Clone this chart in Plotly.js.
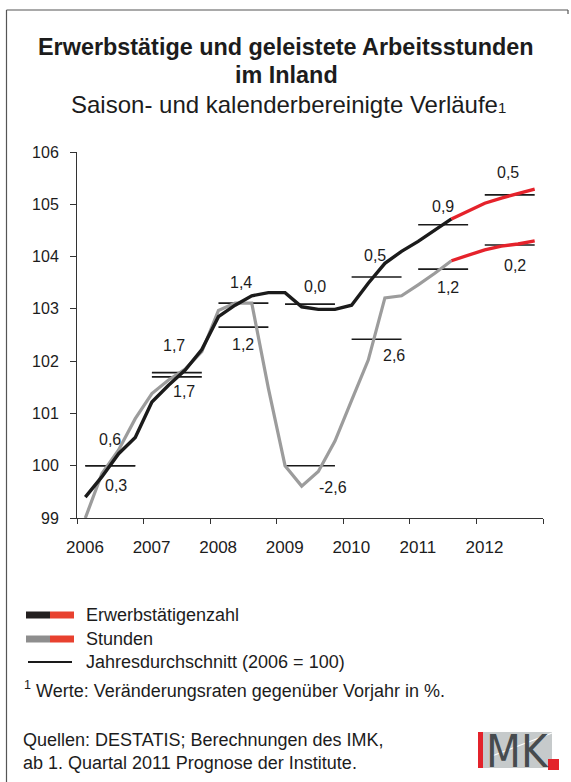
<!DOCTYPE html>
<html>
<head>
<meta charset="utf-8">
<script src="https://cdn.plot.ly/plotly-3.0.1.min.js"></script>
<style>
  html, body { margin: 0; padding: 0; background: #ffffff; }
  #chart { width: 571px; height: 782px; }
</style>
</head>
<body>
<div id="chart"></div>
<script>
// ---------------- data ----------------
const years = [2006, 2007, 2008, 2009, 2010, 2011, 2012];
const yearLabels = ['2006', '2007', '2008', '2009', '2010', '2011', '2012'];

// quarterly index values (2006 = 100), Q1 2006 ... Q4 2012
const erwerbstaetige = [
  99.40, 99.79, 100.23, 100.54,
  101.22, 101.54, 101.83, 102.22,
  102.85, 103.07, 103.25, 103.31,
  103.31, 103.04, 102.99, 102.99,
  103.07, 103.49, 103.87, 104.10,
  104.29, 104.51, 104.72, 104.87,
  105.02, 105.12, 105.20, 105.29
];
const stunden = [
  99.00, 99.85, 100.30, 100.90,
  101.38, 101.64, 101.85, 102.18,
  102.97, 103.11, 103.11, 101.48,
  100.00, 99.61, 99.89, 100.47,
  101.25, 102.02, 103.21, 103.25,
  103.46, 103.68, 103.92, 104.03,
  104.13, 104.20, 104.24, 104.30
];
const forecastStart = 22; // index where the red (forecast) part starts

// annual averages
const avgErwerb  = [100.00, 101.70, 103.11, 103.09, 103.61, 104.61, 105.18];
const avgStunden = [100.00, 101.78, 102.65, 100.00, 102.42, 103.76, 104.22];

// annual change rates in %
const rateErwerb  = ['0,6', '1,7', '1,4', '0,0', '0,5', '0,9', '0,5'];
const rateStunden = ['0,3', '1,7', '1,2', '-2,6', '2,6', '1,2', '0,2'];

// ---------------- label placement (style) ----------------
const lblErwerbDx    = [0.50, 0.60, 0.47, 0.58, 0.48, 0.50, 0.47];
const lblErwerbShift = [26, -15, 21, 18, 21, 18, 22];
const lblStundenDx    = [0.59, 0.46, 0.50, 0.85, 0.76, 0.58, 0.58];
const lblStundenShift = [-20, 27, -17, -22, -16, -18, -20];

// ---------------- helpers ----------------
const quarterX = [];
years.forEach(y => { for (let q = 0; q < 4; q++) quarterX.push(y + (q + 0.5) / 4); });

function avgSegments(avg) {
  const xs = [], ys = [];
  years.forEach((y, i) => {
    xs.push(y + 0.125, y + 0.875, null);
    ys.push(avg[i], avg[i], null);
  });
  return { xs, ys };
}

const FONT = 'Liberation Sans, Arial, Helvetica, sans-serif';
const TXT = '#1c1c1c';
const BLACK = '#1b1b1b';
const GRAY = '#9c9c9c';
const RED = '#e5222b';

// plot area in pixels
const L = 77, R = 543, T = 152, B = 518;
const W = R - L, H = B - T;
const px = p => (p - L) / W;
const py = p => (B - p) / H;

// ---------------- traces ----------------
const segE = avgSegments(avgErwerb);
const segS = avgSegments(avgStunden);

const traces = [
  { x: segS.xs, y: segS.ys, mode: 'lines', line: { color: '#1a1a1a', width: 1.6 }, hoverinfo: 'skip', showlegend: false },
  { x: segE.xs, y: segE.ys, mode: 'lines', line: { color: '#1a1a1a', width: 1.6 }, hoverinfo: 'skip', showlegend: false },
  { x: quarterX.slice(0, forecastStart + 1), y: stunden.slice(0, forecastStart + 1), mode: 'lines',
    line: { color: GRAY, width: 3.2 }, showlegend: false },
  { x: quarterX.slice(0, forecastStart + 1), y: erwerbstaetige.slice(0, forecastStart + 1), mode: 'lines',
    line: { color: BLACK, width: 3.4 }, showlegend: false },
  { x: quarterX.slice(forecastStart), y: stunden.slice(forecastStart), mode: 'lines',
    line: { color: RED, width: 3.4 }, showlegend: false },
  { x: quarterX.slice(forecastStart), y: erwerbstaetige.slice(forecastStart), mode: 'lines',
    line: { color: RED, width: 3.4 }, showlegend: false }
];

// ---------------- annotations ----------------
const annotations = [];

years.forEach((y, i) => {
  annotations.push({ x: y + lblErwerbDx[i], y: avgErwerb[i], xref: 'x', yref: 'y', text: rateErwerb[i],
    showarrow: false, yshift: lblErwerbShift[i], xanchor: 'center', yanchor: 'middle',
    font: { family: FONT, size: 16, color: TXT } });
  annotations.push({ x: y + lblStundenDx[i], y: avgStunden[i], xref: 'x', yref: 'y', text: rateStunden[i],
    showarrow: false, yshift: lblStundenShift[i], xanchor: 'center', yanchor: 'middle',
    font: { family: FONT, size: 16, color: TXT } });
});

function textAt(x, y, text, size, anchor, extra) {
  return Object.assign({ x: px(x), y: py(y), xref: 'paper', yref: 'paper', text: text, showarrow: false,
    xanchor: anchor, yanchor: 'middle', font: { family: FONT, size: size, color: TXT } }, extra || {});
}

// title block
annotations.push(textAt(286, 47, '<b>Erwerbstätige und geleistete Arbeitsstunden</b>', 23.4, 'center'));
annotations.push(textAt(286, 75, '<b>im Inland</b>', 23.4, 'center'));
annotations.push(textAt(288, 105, 'Saison- und kalenderbereinigte Verläufe<span style="font-size:15px">1</span>', 24, 'center'));

// legend
annotations.push(textAt(84, 615, 'Erwerbstätigenzahl', 18, 'left'));
annotations.push(textAt(84, 639, 'Stunden', 18, 'left'));
annotations.push(textAt(84, 662, 'Jahresdurchschnitt (2006 = 100)', 18, 'left'));
annotations.push(textAt(22, 689, '<sup>1</sup> Werte: Veränderungsraten gegenüber Vorjahr in %.', 18, 'left'));
annotations.push(textAt(21, 740, 'Quellen: DESTATIS; Berechnungen des IMK,', 18, 'left'));
annotations.push(textAt(21, 763, 'ab 1. Quartal 2011 Prognose der Institute.', 18, 'left'));

// logo text
annotations.push(textAt(484, 751, 'MK', 45, 'left',
  { font: { family: 'Liberation Sans Narrow, DejaVu Sans Condensed, Arial Narrow, sans-serif', size: 45, color: '#464b4e' } }));

// ---------------- shapes ----------------
function rect(x0, y0, x1, y1, color) {
  return { type: 'rect', xref: 'paper', yref: 'paper', x0: px(x0), x1: px(x1), y0: py(y1), y1: py(y0),
    fillcolor: color, line: { width: 0 }, layer: 'above' };
}
function seg(x0, y0, x1, y1, color, width) {
  return { type: 'line', xref: 'paper', yref: 'paper', x0: px(x0), x1: px(x1), y0: py(y0), y1: py(y1),
    line: { color: color, width: width }, layer: 'above' };
}

const shapes = [
  // frame
  seg(6.5, 10, 568, 10, '#555555', 1.2),
  seg(6.5, 10, 6.5, 790, '#555555', 1.2),
  seg(568, 10, 568, 14, '#555555', 1.2),
  // legend symbols
  seg(26, 615, 50, 615, '#231f20', 7),
  seg(50, 615, 74, 615, '#e8412f', 7),
  seg(26, 639, 50, 639, '#8e8e8e', 7),
  seg(50, 639, 74, 639, '#e8412f', 7),
  seg(28, 662, 72, 662, '#1a1a1a', 2),
  // logo
  { type: 'rect', xref: 'paper', yref: 'paper', x0: px(478), x1: px(552), y0: py(768), y1: py(732),
    fillcolor: '#c6cacb', line: { width: 0 }, layer: 'below' },
  { type: 'line', xref: 'paper', yref: 'paper', x0: px(492), x1: px(552), y0: py(756), y1: py(733),
    line: { color: '#ffffff', width: 1.3 }, layer: 'below' },
  rect(478, 732, 483, 768, '#e3232b'),
  rect(548, 759, 559, 770, '#e3232b')
];

// ---------------- layout ----------------
const layout = {
  width: 571, height: 782,
  margin: { l: L, r: 571 - R, t: T, b: 782 - B, pad: 0 },
  paper_bgcolor: '#ffffff', plot_bgcolor: '#ffffff',
  showlegend: false,
  font: { family: FONT, color: TXT },
  xaxis: {
    range: [2006, 2013], tickvals: years.concat([2013]), ticktext: yearLabels.concat(['']),
    ticks: 'outside', ticklen: 5, tickwidth: 1, tickcolor: '#333333',
    showline: true, linecolor: '#333333', linewidth: 1, showgrid: false, zeroline: false,
    tickfont: { family: FONT, size: 17, color: TXT }, ticklabelshift: 8, ticklabelstandoff: 9,
    fixedrange: true
  },
  yaxis: {
    range: [99, 106], tickvals: [99, 100, 101, 102, 103, 104, 105, 106],
    ticks: 'outside', ticklen: 6, tickwidth: 1, tickcolor: '#333333',
    showline: true, linecolor: '#333333', linewidth: 1, showgrid: false, zeroline: false,
    tickfont: { family: FONT, size: 16, color: TXT }, ticklabelstandoff: 8,
    fixedrange: true
  },
  annotations: annotations,
  shapes: shapes
};

Plotly.newPlot('chart', traces, layout, { displayModeBar: false, staticPlot: true });
</script>
</body>
</html>
